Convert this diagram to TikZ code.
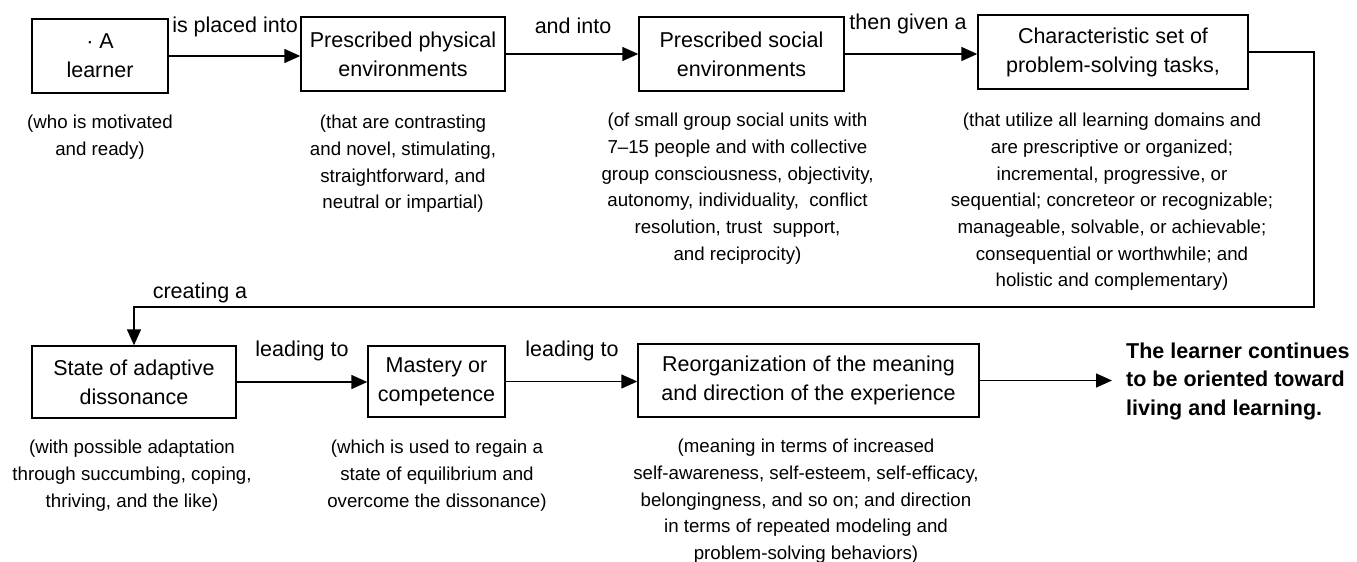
\documentclass[tikz,border=0pt]{standalone}
\usepackage{fontspec}
\setmainfont{Liberation Sans}
\usetikzlibrary{arrows.meta}
\begin{document}
\begin{tikzpicture}[x=1pt,y=-1pt,
  box/.style={draw=black, line width=1.4pt, align=center, inner sep=0pt,
    font=\fontsize{21.5}{29}\selectfont},
  note/.style={align=center, anchor=north, inner sep=0pt,
    font=\fontsize{18.7}{26.7}\selectfont},
  lbl/.style={inner sep=0pt, font=\fontsize{21.5}{26}\selectfont},
  link/.style={line width=1.4pt, -{Triangle[length=16pt,width=14pt]}},
]
\useasboundingbox (0,0) rectangle (1357,562);

% top row of boxes
\node[box, minimum width=136pt, minimum height=74pt] (learner) at (100,56) {· A\\learner};
\node[box, minimum width=204pt, minimum height=74pt] (phys) at (403,54) {Prescribed physical\\environments};
\node[box, minimum width=205pt, minimum height=74pt] (soc) at (741.5,54) {Prescribed social\\environments};
\node[box, minimum width=270pt, minimum height=74pt] (tasks) at (1113,52) {Characteristic set of\\problem-solving tasks,};

% bottom row of boxes
\node[box, minimum width=204pt, minimum height=72pt] (state) at (134,382) {State of adaptive\\dissonance};
\node[box, minimum width=137pt, minimum height=71pt] (mastery) at (436.5,381.5) {Mastery or\\competence};
\node[box, minimum width=341pt, minimum height=73pt] (reorg) at (808.5,380.5) {Reorganization of the meaning\\and direction of the experience};

% outcome text
\node[anchor=west, align=left, inner sep=0pt, font=\fontsize{21.5}{28.5}\selectfont\bfseries] (outcome) at (1126,381)
  {The learner continues\\to be oriented toward\\living and learning.};

% connector labels
\node[lbl] (l1) at (235,27) {is placed into};
\node[lbl] (l2) at (573,26) {and into};
\node[lbl] (l3) at (908,24) {then given a};
\node[lbl] (l4) at (200,293) {creating a};
\node[lbl] (l5) at (302,351) {leading to};
\node[lbl] (l6) at (572,351) {leading to};

% connectors
\draw[link] (learner.east) -- (learner.east -| phys.west);
\draw[link] (phys.east) -- (phys.east -| soc.west);
\draw[link] (soc.east) -- (soc.east -| tasks.west);
\coordinate (turn) at (1314,307);
\draw[link] (tasks.east) -| (turn) -| (state.north);
\draw[link] (state.east) -- (state.east -| mastery.west);
\draw[link] (mastery.east) -- (mastery.east -| reorg.west);
\coordinate (endpt) at (1112,379);
\draw[link] (reorg.east) -- (reorg.east -| endpt);

% annotations beneath the boxes
\node[note] (n1) at (100,115) {(who is motivated\\and ready)};
\node[note] (n2) at (403,115) {(that are contrasting\\and novel, stimulating,\\straightforward, and\\neutral or impartial)};
\node[note] (n3) at (737.5,113) {(of small group social units with\\7–15 people and with collective\\group consciousness, objectivity,\\autonomy, individuality,\ \ conflict\\resolution, trust\ \ support,\\and reciprocity)};
\node[note] (n4) at (1112,113) {(that utilize all learning domains and\\are prescriptive or organized;\\incremental, progressive, or\\sequential; concreteor or recognizable;\\manageable, solvable, or achievable;\\consequential or worthwhile; and\\holistic and complementary)};
\node[note] (n5) at (132,440) {(with possible adaptation\\through succumbing, coping,\\thriving, and the like)};
\node[note] (n6) at (437,440) {(which is used to regain a\\state of equilibrium and\\overcome the dissonance)};
\node[note] (n7) at (806,439) {(meaning in terms of increased\\self-awareness, self-esteem, self-efficacy,\\belongingness, and so on; and direction\\in terms of repeated modeling and\\problem-solving behaviors)};
\end{tikzpicture}
\end{document}
